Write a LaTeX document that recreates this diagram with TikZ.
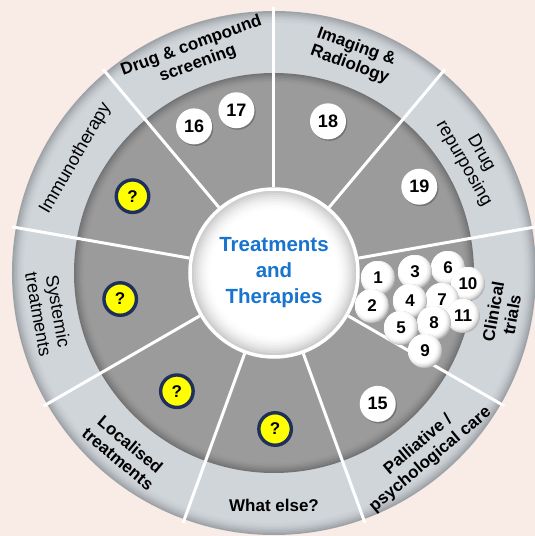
\documentclass[tikz,border=0pt]{standalone}
\usepackage{fontspec}
\setmainfont{Liberation Sans}
\usetikzlibrary{shadows}

\definecolor{backpink}{HTML}{F9EBE6}
\definecolor{ringlight}{HTML}{D0D5DA}
\definecolor{ringedge}{HTML}{9DA2A7}
\definecolor{ringdark}{HTML}{9B9B9B}
\definecolor{ringshadow}{HTML}{747474}
\definecolor{hubrim}{HTML}{C4C4C4}
\definecolor{ballrim}{HTML}{B4B4B4}
\definecolor{titleblue}{HTML}{1874CD}
\definecolor{qyellow}{HTML}{FFFF00}
\definecolor{qnavy}{HTML}{1F2F5C}

\tikzset{
  spoke/.style={white, line width=3pt},
  hub/.style={circle, minimum size=168pt, inner sep=0pt, fill=white,
    draw=white, line width=3.5pt, text=titleblue, align=center,
    font=\bfseries\fontsize{20.5}{26}\selectfont,
    path picture={
      \foreach \r/\c in {84/0, 82/16, 80/32, 78/46, 76/59, 74/70, 72/79, 70/87, 68/93, 66/97, 64/100}
        \fill[white!\c!hubrim] (path picture bounding box.center) circle (\r);}},
  sector/.style={align=center, text=black, inner sep=0pt,
    font=\bfseries\fontsize{17}{19}\selectfont},
  sectorlight/.style={sector, font=\fontsize{18}{20}\selectfont},
  badge/.style={circle, fill=white, minimum size=36pt, inner sep=0pt,
    font=\bfseries\fontsize{18}{18}\selectfont,
    drop shadow={shadow xshift=1.2pt, shadow yshift=-1.5pt, fill=ringshadow, opacity=1}},
  ball/.style={circle, fill=ballrim, minimum size=34pt, inner sep=0pt,
    font=\bfseries\fontsize{17}{17}\selectfont,
    path picture={
      \foreach \r/\c in {19/35, 18/55, 17/72, 16/85, 15/94, 14/100}
        \fill[white!\c!ballrim] ([shift={(-2.5,2.5)}]path picture bounding box.center) circle (\r);}},
  qmark/.style={circle, fill=qyellow, draw=qnavy, line width=3.4pt,
    minimum size=32.5pt, inner sep=0pt, font=\bfseries\fontsize{17}{17}\selectfont,
    drop shadow={shadow xshift=1.2pt, shadow yshift=-1.5pt, fill=ringshadow, opacity=1}}
}

\begin{document}
\begin{tikzpicture}[x=1pt, y=1pt]
\useasboundingbox (-274,-263) rectangle (261,273);
\clip (-274,-263) rectangle (261,273);
\fill[backpink] (-274,-263) rectangle (261,273);

% outer ring, darker towards its rim
\foreach \r/\c in {262/0, 260.5/20, 259/38, 257.5/54, 256/68, 254.5/80, 253/89, 251.5/95, 250/100}
  \fill[ringlight!\c!ringedge] (0,0) circle (\r);
% inner ring, with a shadow along its edge
\foreach \r/\c in {200/0, 198.5/22, 197/42, 195.5/60, 194/75, 192.5/87, 191/95, 189.5/100}
  \fill[ringdark!\c!ringshadow] (0,0) circle (\r);

\node[hub] (hub) at (0,0) {Treatments\\and\\Therapies};
\foreach \a in {10,50,...,330}
  \draw[spoke] (hub.\a) -- (\a:266);

% sector names
\node[sector, rotate=20] (drugscreen) at (110:232) {Drug \& compound\\screening};
\node[sector, rotate=-20] (imaging) at (70:231) {Imaging \&\\Radiology};
\node[sectorlight, rotate=-60] (repurpose) at (30:229) {Drug\\repurposing};
\node[sector, rotate=80] (clinical) at (-10:232) {Clinical\\trials};
\node[sector, rotate=40] (palliative) at (-50:234) {Palliative /\\psychological care};
\node[sector] (whatelse) at (-90:232) {What else?};
\node[sector, rotate=-40] (localised) at (-130:233) {Localised\\treatments};
\node[sectorlight, rotate=-80] (systemic) at (190:229) {Systemic\\treatments};
\node[sectorlight, rotate=60] (immuno) at (150:229) {Immunotherapy};

% numbered references
\node[badge] (n16) at (118.6:167) {16};
\node[badge] (n17) at (103:167) {17};
\node[badge] (n18) at (70.4:161) {18};
\node[badge] (n19) at (30.7:169) {19};
\node[badge] (n15) at (-51.6:167) {15};

% open questions
\node[qmark] (qimmuno) at (151.5:161) {?};
\node[qmark] (qsystemic) at (189.6:156) {?};
\node[qmark] (qlocal) at (230.6:153) {?};
\node[qmark] (qelse) at (-89.6:156) {?};

% clinical trial cluster
\foreach \n/\x/\y in {6/174/5, 3/141/1, 1/104/-5, 10/194/-11, 7/168/-27, 4/136/-28,
    2/98/-33, 11/189/-43, 8/160/-50, 5/127/-55, 9/151/-78}
  \node[ball] (n\n) at (\x,\y) {\n};
\end{tikzpicture}
\end{document}
